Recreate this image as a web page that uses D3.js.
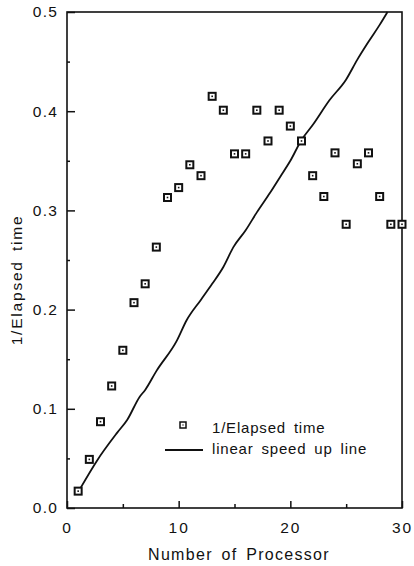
<!DOCTYPE html>
<html><head><meta charset="utf-8">
<script src="https://cdn.jsdelivr.net/npm/d3@7"></script>
<style>body{margin:0;background:#fff}svg{display:block}text{font-family:"Liberation Sans",Arial,sans-serif;fill:#111}</style>
</head><body>
<script>
const processors = d3.range(1, 31);
const invElapsed = [0.017,0.049,0.087,0.123,0.159,0.207,0.226,0.263,0.313,0.323,0.346,0.335,0.415,0.401,0.357,0.357,0.401,0.370,0.401,0.385,0.370,0.335,0.314,0.358,0.286,0.347,0.358,0.314,0.286,0.286];
const lineX = [1.1,2.7,4.5,5.4,6.5,7.0,8.0,9.85,10.7,12,13,14,14.9,16,17,18.2,19.1,20,21,22,23.5,25,26,27,28,28.7];
const lineY = [0.018,0.048,0.076,0.089,0.112,0.119,0.138,0.169,0.189,0.210,0.226,0.243,0.263,0.280,0.298,0.318,0.334,0.350,0.371,0.386,0.411,0.432,0.452,0.470,0.487,0.5];
const xTicks = [0,10,20,30];
const yTicks = [0.0,0.1,0.2,0.3,0.4,0.5];
const legendLabels = ["1/Elapsed time","linear speed up line"];

const W=414,H=566, L=67,R=402,T=12,B=508;
const FF="Liberation Sans, Arial, sans-serif";
const svg=d3.select("body").append("svg").attr("width",W).attr("height",H);
const x=d3.scaleLinear().domain([0,30]).range([L,R]);
const y=d3.scaleLinear().domain([0,0.5]).range([B,T]);

// frame
svg.append("rect").attr("x",L).attr("y",T).attr("width",R-L).attr("height",B-T).attr("fill","none").attr("stroke","#111").attr("stroke-width",1.6);

// y axis
const ya=svg.append("g").attr("transform",`translate(${L},0)`)
 .call(d3.axisLeft(y).tickValues(yTicks).tickFormat(d3.format(".1f")).tickSize(-8).tickPadding(9));
ya.select(".domain").remove();
ya.selectAll("line").attr("stroke","#111").attr("stroke-width",1.5);
ya.selectAll("text").attr("font-size",15.5).attr("fill","#111").attr("letter-spacing","1.2px").attr("font-family",FF);
const ym=svg.append("g").attr("transform",`translate(${L},0)`).call(d3.axisLeft(y).tickValues([0.05,0.15,0.25,0.35,0.45]).tickSize(-3).tickFormat(""));
ym.select(".domain").remove(); ym.selectAll("line").attr("stroke","#111").attr("stroke-width",1.5);

// x axis
const xa=svg.append("g").attr("transform",`translate(0,${B})`)
 .call(d3.axisBottom(x).tickValues(xTicks).tickFormat(d=>d).tickSize(-7).tickPadding(14));
xa.select(".domain").remove();
xa.selectAll("line").attr("stroke","#111").attr("stroke-width",1.5);
xa.selectAll("text").attr("font-size",15.5).attr("fill","#111").attr("letter-spacing","2px").attr("font-family",FF);
const xm=svg.append("g").attr("transform",`translate(0,${B})`).call(d3.axisBottom(x).tickValues([5,15,25]).tickSize(-4).tickFormat(""));
xm.select(".domain").remove(); xm.selectAll("line").attr("stroke","#111").attr("stroke-width",1.5);

// titles
svg.append("text").attr("x",239).attr("y",560).attr("text-anchor","middle").attr("font-size",16).attr("letter-spacing","1.3px").attr("word-spacing","3px").text("Number of Processor");
svg.append("text").attr("transform",`translate(22,280) rotate(-90)`).attr("text-anchor","middle").attr("font-size",15.5).attr("letter-spacing","1.8px").attr("word-spacing","3px").text("1/Elapsed time");

// line
const lineData=lineX.map((d,i)=>[d,lineY[i]]);
svg.append("path").datum(lineData).attr("fill","none").attr("stroke","#111").attr("stroke-width",1.8)
 .attr("d",d3.line().x(d=>x(d[0])).y(d=>y(d[1])).curve(d3.curveMonotoneX));

// points
const pts=svg.append("g").selectAll("g").data(processors.map((p,i)=>[p,invElapsed[i]])).join("g")
 .attr("transform",d=>`translate(${x(d[0])},${y(d[1])})`);
pts.append("rect").attr("x",-3.5).attr("y",-3.5).attr("width",7).attr("height",7).attr("fill","#fff").attr("stroke","#111").attr("stroke-width",2);
pts.append("rect").attr("x",-0.8).attr("y",-0.8).attr("width",1.6).attr("height",1.6).attr("fill","#111");

// legend
const lg=svg.append("g");
lg.append("rect").attr("x",180).attr("y",422).attr("width",6).attr("height",6).attr("fill","#fff").attr("stroke","#111").attr("stroke-width",1.5);
lg.append("rect").attr("x",182.4).attr("y",424.4).attr("width",1.2).attr("height",1.2).attr("fill","#111");
lg.append("line").attr("x1",165).attr("x2",203).attr("y1",450).attr("y2",450).attr("stroke","#111").attr("stroke-width",1.8);
lg.append("text").attr("x",212).attr("y",433).attr("font-size",15).attr("letter-spacing","0.8px").attr("word-spacing","3px").text(legendLabels[0]);
lg.append("text").attr("x",212).attr("y",454).attr("font-size",15).attr("letter-spacing","0.8px").attr("word-spacing","3px").text(legendLabels[1]);
</script>
</body></html>
